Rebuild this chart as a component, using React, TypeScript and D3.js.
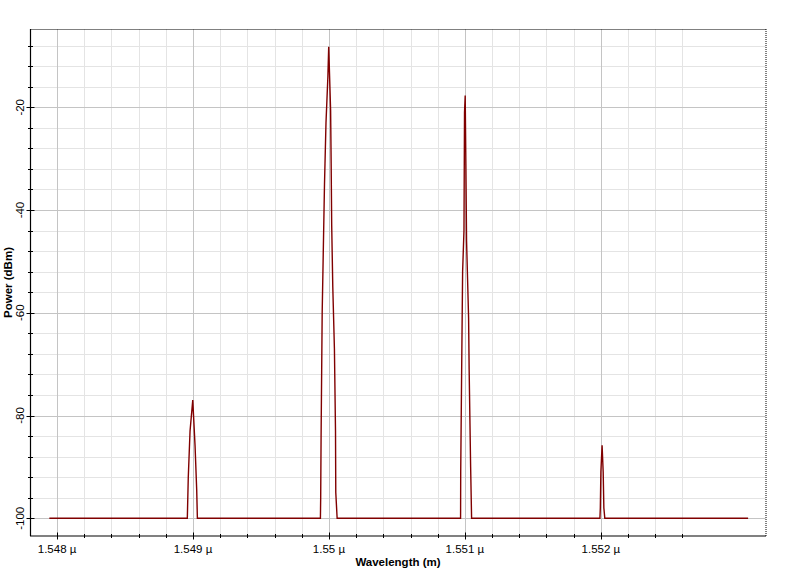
import React from "react";
import * as d3 from "d3";

// Wavelength in micrometres, power in dBm
const wavelength = [
  1.547943,
  1.548958, 1.548965, 1.548978, 1.548998, 1.549015, 1.549027, 1.549032,
  1.549937, 1.549939, 1.549942, 1.54995, 1.549967, 1.549978, 1.549992, 1.549998,
  1.550005, 1.550012, 1.550016, 1.55002, 1.550028, 1.55004, 1.550048, 1.55005, 1.55006,
  1.550968, 1.550969, 1.550976, 1.550983, 1.550993, 1.550997, 1.551002,
  1.551007, 1.551012, 1.551027, 1.551031, 1.551042, 1.551049,
  1.551993, 1.551996, 1.552, 1.552009, 1.552017, 1.552022, 1.552029,
  1.553083,
];
const power = [
  -100,
  -100, -92, -83, -77, -86, -94.5, -100,
  -100, -96, -84, -60, -35, -23, -14, -8.2,
  -14.4, -20.6, -31, -43, -55, -67, -83, -95, -100,
  -100, -91, -71, -52, -44, -21, -17.7,
  -31, -46, -61, -71, -90, -100,
  -100, -98, -91, -85.8, -91, -98, -100,
  -100,
];

const xMajorTicks = [1.548, 1.549, 1.55, 1.551, 1.552];
const xTickLabels = ["1.548 µ", "1.549 µ", "1.55 µ", "1.551 µ", "1.552 µ"];
const xMinorTicks = [
  1.5482, 1.5484, 1.5486, 1.5488, 1.5492, 1.5494, 1.5496, 1.5498,
  1.5502, 1.5504, 1.5506, 1.5508, 1.5512, 1.5514, 1.5516, 1.5518,
  1.5522, 1.5524, 1.5526,
];
const yMajorTicks = [-20, -40, -60, -80, -100];
const yTickLabels = ["-20", "-40", "-60", "-80", "-100"];
const yMinorTicks = [
  -8, -12, -16, -24, -28, -32, -36, -44, -48, -52, -56,
  -64, -68, -72, -76, -84, -88, -92, -96,
];

const xDomain = [1.5478044, 1.553211];
const yDomain = [-103.45, -4.76];

export default function App() {
  const left = 30.5;
  const right = 765.5;
  const top = 29;
  const bottom = 536;
  const x = d3.scaleLinear().domain(xDomain).range([left, right]);
  const y = d3.scaleLinear().domain(yDomain).range([bottom, top]);
  const pts: [number, number][] = wavelength.map((w, i) => [w, power[i]]);
  const line = d3
    .line<[number, number]>()
    .x((d) => x(d[0]))
    .y((d) => y(d[1]));
  const font = "'Liberation Sans', Arial, sans-serif";

  return (
    <svg
      width={796}
      height={568}
      style={{ position: "absolute", left: 0, top: 0, background: "#fff" }}
      fontFamily={font}
    >
      <rect x={0} y={0} width={796} height={568} fill="#fff" />
      {/* minor grid */}
      {xMinorTicks.map((t) => (
        <line key={"xm" + t} x1={Math.round(x(t)) + 0.5} x2={Math.round(x(t)) + 0.5} y1={top} y2={bottom} stroke="#e4e4e4" />
      ))}
      {yMinorTicks.map((t) => (
        <line key={"ym" + t} x1={left} x2={right} y1={Math.round(y(t)) + 0.5} y2={Math.round(y(t)) + 0.5} stroke="#e4e4e4" />
      ))}
      {/* major grid */}
      {xMajorTicks.map((t) => (
        <line key={"xM" + t} x1={Math.round(x(t)) + 0.5} x2={Math.round(x(t)) + 0.5} y1={top} y2={bottom} stroke="#c4c4c4" />
      ))}
      {yMajorTicks.map((t) => (
        <line key={"yM" + t} x1={left} x2={right} y1={Math.round(y(t)) + 0.5} y2={Math.round(y(t)) + 0.5} stroke="#c4c4c4" />
      ))}
      {/* data */}
      <path d={line(pts) || ""} fill="none" stroke="#800000" strokeWidth={1.4} strokeLinejoin="miter" />
      {/* frame */}
      <line x1={left} x2={right} y1={top + 0.5} y2={top + 0.5} stroke="#000" strokeDasharray="1,1" />
      <line x1={right + 0.5} x2={right + 0.5} y1={top} y2={bottom} stroke="#000" strokeDasharray="1,1" />
      <line x1={left} x2={right + 1} y1={bottom} y2={bottom} stroke="#000" strokeWidth={2} strokeDasharray="1,1" />
      <line x1={left} x2={left} y1={top} y2={bottom} stroke="#000" strokeWidth={1.2} />
      {/* y ticks */}
      {yMinorTicks.map((t) => (
        <line key={"yt" + t} x1={left - 2.5} x2={left + 2.5} y1={Math.round(y(t)) + 0.5} y2={Math.round(y(t)) + 0.5} stroke="#000" />
      ))}
      {yMajorTicks.map((t, i) => (
        <g key={"yl" + t}>
          <line x1={left - 4} x2={left + 4} y1={Math.round(y(t)) + 0.5} y2={Math.round(y(t)) + 0.5} stroke="#000" />
          <text
            transform={`translate(${left - 7},${y(t)}) rotate(-90)`}
            textAnchor="middle"
            fontSize={11.5}
            fill="#000"
          >
            {yTickLabels[i]}
          </text>
        </g>
      ))}
      {/* x ticks */}
      {xMinorTicks.map((t) => (
        <line key={"xt" + t} x1={Math.round(x(t)) + 0.5} x2={Math.round(x(t)) + 0.5} y1={bottom - 2} y2={bottom + 2} stroke="#000" />
      ))}
      {xMajorTicks.map((t, i) => (
        <g key={"xl" + t}>
          <line x1={Math.round(x(t)) + 0.5} x2={Math.round(x(t)) + 0.5} y1={bottom - 3.5} y2={bottom + 3.5} stroke="#000" />
          <text x={x(t)} y={553} textAnchor="middle" fontSize={11.5} fill="#000">
            {xTickLabels[i]}
          </text>
        </g>
      ))}
      {/* axis titles */}
      <text x={(left + right) / 2} y={566} textAnchor="middle" fontSize={11.5} fontWeight="bold" fill="#000">
        Wavelength (m)
      </text>
      <text
        transform={`translate(12,${(top + bottom) / 2}) rotate(-90)`}
        textAnchor="middle"
        fontSize={11.5}
        fontWeight="bold"
        fill="#000"
      >
        Power (dBm)
      </text>
    </svg>
  );
}
